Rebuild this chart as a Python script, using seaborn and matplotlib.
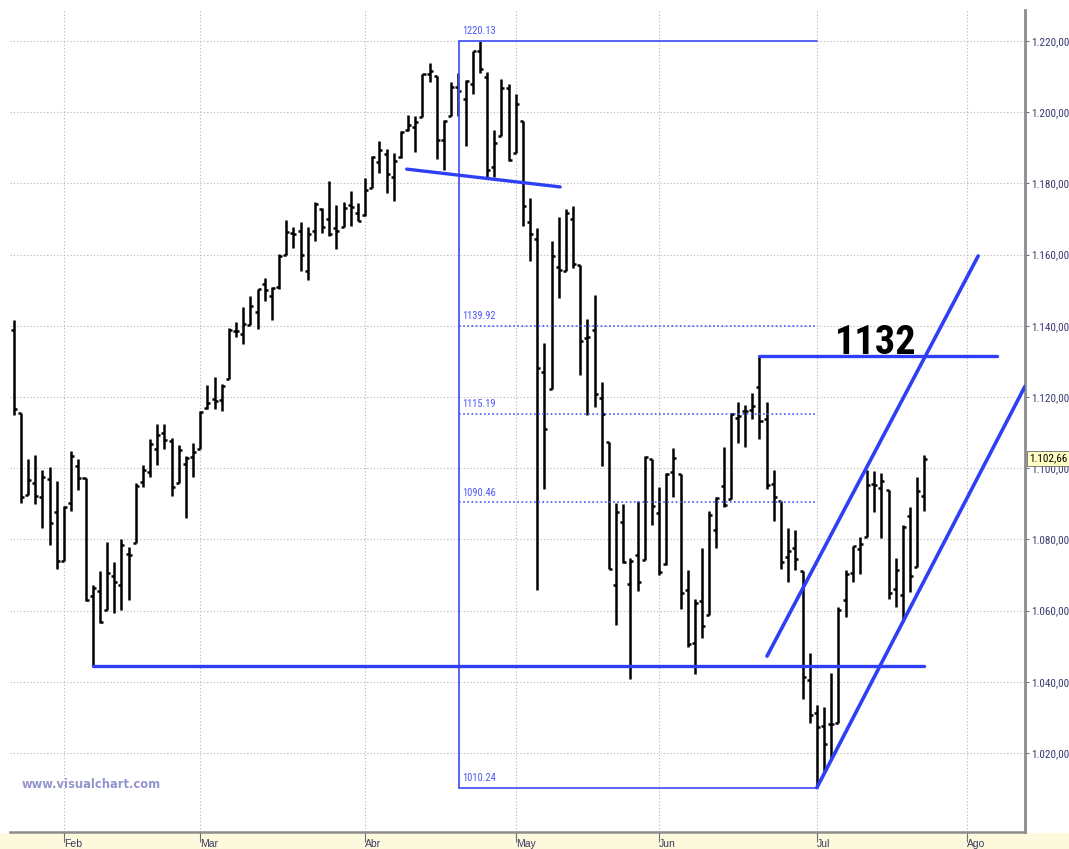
import numpy as np
import pandas as pd
import matplotlib
matplotlib.use("Agg")
import matplotlib.pyplot as plt
import matplotlib.transforms as mtransforms
from matplotlib import font_manager as fm
from matplotlib.patches import Rectangle
import seaborn as sns

# ---------------- data ----------------
dates = ["2010-01-21","2010-01-22","2010-01-25","2010-01-26","2010-01-27","2010-01-28","2010-01-29",
"2010-02-01","2010-02-02","2010-02-03","2010-02-04","2010-02-05","2010-02-08","2010-02-09","2010-02-10",
"2010-02-11","2010-02-12","2010-02-16","2010-02-17","2010-02-18","2010-02-19","2010-02-22","2010-02-23",
"2010-02-24","2010-02-25","2010-02-26",
"2010-03-01","2010-03-02","2010-03-03","2010-03-04","2010-03-05","2010-03-08","2010-03-09","2010-03-10",
"2010-03-11","2010-03-12","2010-03-15","2010-03-16","2010-03-17","2010-03-18","2010-03-19","2010-03-22",
"2010-03-23","2010-03-24","2010-03-25","2010-03-26","2010-03-29","2010-03-30","2010-03-31",
"2010-04-01","2010-04-05","2010-04-06","2010-04-07","2010-04-08","2010-04-09","2010-04-12","2010-04-13",
"2010-04-14","2010-04-15","2010-04-16","2010-04-19","2010-04-20","2010-04-21","2010-04-22","2010-04-23",
"2010-04-26","2010-04-27","2010-04-28","2010-04-29","2010-04-30",
"2010-05-03","2010-05-04","2010-05-05","2010-05-06","2010-05-07","2010-05-10","2010-05-11","2010-05-12",
"2010-05-13","2010-05-14","2010-05-17","2010-05-18","2010-05-19","2010-05-20","2010-05-21","2010-05-24",
"2010-05-25","2010-05-26","2010-05-27","2010-05-28",
"2010-06-01","2010-06-02","2010-06-03","2010-06-04","2010-06-07","2010-06-08","2010-06-09","2010-06-10",
"2010-06-11","2010-06-14","2010-06-15","2010-06-16","2010-06-17","2010-06-18","2010-06-21","2010-06-22",
"2010-06-23","2010-06-24","2010-06-25","2010-06-28","2010-06-29","2010-06-30",
"2010-07-01","2010-07-02","2010-07-06","2010-07-07","2010-07-08","2010-07-09","2010-07-12","2010-07-13",
"2010-07-14","2010-07-15","2010-07-16","2010-07-19","2010-07-20","2010-07-21","2010-07-22","2010-07-23"]

opens = [1138.7,1115.5,1092.4,1095.8,1091.9,1096.9,1087.6,
1073.9,1090.1,1100.7,1097.3,1064.1,1065.5,1060.1,1069.7,1067.1,1075.9,1079.1,1096.1,1099.0,1105.5,1110.0,
1107.5,1095.9,1101.2,1103.1,
1105.4,1117.0,1119.4,1119.1,1125.1,1138.4,1137.6,1140.2,1144.0,1151.7,1148.5,1150.8,1159.9,1166.1,1166.7,
1155.4,1166.5,1172.7,1170.0,1167.6,1167.7,1173.8,1171.8,
1171.2,1178.7,1186.0,1188.2,1181.8,1187.5,1194.9,1195.9,1198.7,1210.8,1210.2,1192.1,1199.0,1207.2,1203.8,
1207.9,1217.1,1209.9,1184.6,1193.3,1206.8,
1188.6,1197.5,1169.2,1164.4,1127.0,1122.3,1156.4,1155.4,1170.0,1157.2,1136.5,1138.8,1119.6,1107.3,1067.3,
1084.8,1067.4,1075.5,1074.3,1102.6,
1087.3,1073.0,1098.8,1098.4,1065.8,1050.8,1062.8,1058.8,1082.7,1095.0,1091.2,1114.0,1116.0,1116.2,1122.8,
1113.9,1095.6,1090.9,1075.1,1077.5,1071.1,1040.6,
1031.1,1027.7,1028.1,1028.5,1062.9,1070.5,1077.2,1080.6,1095.6,1094.5,1093.9,1066.0,1064.5,1086.7,1072.1,
1092.2]

highs = [1141.6,1115.5,1102.6,1103.7,1099.5,1100.2,1096.5,
1089.4,1104.7,1102.7,1097.3,1067.1,1071.2,1079.3,1073.7,1080.0,1077.8,1095.7,1101.0,1108.2,1112.4,1112.3,
1108.6,1106.4,1103.5,1107.2,
1116.1,1123.5,1125.6,1123.7,1139.4,1141.1,1145.4,1148.3,1150.2,1153.4,1151.0,1160.3,1169.8,1167.8,1169.2,
1167.8,1174.7,1173.0,1180.7,1173.9,1174.9,1177.8,1174.6,
1181.4,1187.7,1191.8,1189.6,1188.6,1194.7,1199.2,1199.0,1210.7,1213.9,1210.2,1197.9,1208.6,1211.0,1209.0,
1217.3,1220.13,1211.4,1195.0,1209.4,1208.0,
1205.1,1197.5,1176.0,1167.6,1135.1,1163.9,1170.5,1172.9,1173.6,1157.2,1141.9,1148.7,1124.3,1107.3,1090.2,
1090.0,1074.8,1090.8,1103.5,1102.6,
1094.8,1098.6,1105.7,1098.4,1071.4,1063.2,1077.7,1087.9,1092.0,1105.9,1115.6,1118.7,1117.7,1121.0,1131.2,
1118.5,1099.6,1090.9,1083.1,1082.6,1071.1,1048.1,
1033.6,1032.9,1042.5,1060.9,1071.3,1078.2,1080.8,1099.5,1099.1,1098.7,1093.9,1074.7,1083.9,1089.0,1097.5,
1103.7]

lows = [1114.8,1090.2,1092.4,1089.9,1083.1,1078.5,1071.6,
1073.9,1087.9,1093.8,1062.8,1044.5,1056.5,1060.1,1059.3,1060.1,1063.0,1079.1,1094.7,1097.5,1100.8,1105.4,
1092.2,1095.9,1086.0,1097.6,
1105.4,1116.5,1116.6,1116.1,1125.1,1136.8,1134.9,1140.1,1139.0,1147.0,1141.5,1150.4,1159.9,1161.9,1155.3,
1152.9,1163.8,1166.0,1165.1,1161.5,1167.7,1168.0,1169.4,
1170.7,1178.7,1182.8,1177.3,1175.1,1187.2,1194.7,1188.8,1198.7,1208.5,1186.8,1183.7,1199.0,1198.9,1190.6,
1205.1,1211.1,1181.6,1181.8,1193.3,1186.3,
1188.6,1168.1,1158.2,1065.8,1094.2,1122.3,1147.7,1155.4,1156.1,1126.1,1115.0,1117.2,1100.7,1071.6,1055.9,
1073.4,1040.8,1065.6,1074.3,1084.1,
1069.9,1072.7,1091.8,1060.5,1049.9,1042.2,1052.3,1058.8,1077.5,1089.0,1091.2,1107.1,1105.9,1113.9,1108.2,
1094.2,1085.3,1071.6,1067.9,1071.5,1035.2,1028.3,
1010.24,1015.0,1018.4,1028.5,1058.2,1068.1,1070.4,1080.6,1087.7,1080.5,1063.3,1061.1,1056.9,1065.3,1072.1,
1087.9]

closes = [1116.5,1091.8,1096.8,1092.2,1097.5,1084.5,1073.9,
1089.2,1103.3,1097.3,1063.1,1066.2,1056.7,1070.5,1068.1,1078.5,1075.5,1094.9,1099.5,1106.8,1109.2,1108.0,
1094.6,1105.2,1102.9,1104.5,
1115.7,1118.3,1118.8,1123.0,1138.7,1138.5,1140.5,1145.6,1150.2,1150.0,1150.5,1159.5,1166.2,1165.8,1159.9,
1165.8,1174.2,1167.7,1165.7,1166.6,1173.2,1173.3,1169.4,
1178.1,1187.4,1189.4,1182.5,1186.4,1194.4,1196.5,1197.3,1210.7,1211.7,1192.1,1197.5,1207.2,1205.9,1208.7,
1217.3,1212.1,1183.7,1191.4,1206.8,1186.7,
1202.3,1173.6,1165.9,1128.2,1110.9,1159.7,1155.8,1171.7,1157.4,1135.7,1136.9,1120.8,1115.1,1071.6,1087.7,
1073.7,1074.0,1068.0,1103.1,1089.4,
1070.7,1098.4,1102.8,1064.9,1050.5,1062.0,1055.7,1086.8,1091.6,1089.6,1115.2,1114.6,1116.0,1117.5,1113.2,
1095.3,1092.0,1073.7,1076.8,1074.6,1041.2,1030.7,
1027.4,1022.6,1028.1,1060.3,1070.3,1078.0,1078.8,1095.3,1095.2,1096.5,1064.9,1071.3,1083.5,1069.6,1093.7,
1102.66]

month_labels = ["Feb", "Mar", "Abr", "May", "Jun", "Jul", "Ago"]
month_starts = ["2010-02-01", "2010-03-01", "2010-04-01", "2010-05-03", "2010-06-01", "2010-07-01", "2010-08-02"]

y_ticks = [1020, 1040, 1060, 1080, 1100, 1120, 1140, 1160, 1180, 1200, 1220]

fib_high = 1220.13
fib_low = 1010.24
fib_levels = [1139.92, 1115.19, 1090.46]
support_level = 1044.5
resistance_level = 1131.5
resistance_text = "1132"
last_price = 1102.66

# ---------------- helpers ----------------
def es_num(v):
    return f"{v:,.2f}".replace(",", "X").replace(".", ",").replace("X", ".")

font_names = {f.name for f in fm.fontManager.ttflist}
narrow = None
for cand in ["Liberation Sans Narrow", "DejaVu Sans Condensed", "Roboto Condensed",
             "Open Sans Condensed", "Noto Sans Condensed"]:
    if cand in font_names:
        narrow = cand
        break
if narrow is None:
    conds = [f.name for f in fm.fontManager.ttflist if "condensed" in str(f.stretch).lower()
             or "Narrow" in f.name or "Condensed" in f.name]
    narrow = conds[0] if conds else None
narrow_family = [narrow, "DejaVu Sans"] if narrow else ["Liberation Sans", "DejaVu Sans"]
# width scale relative to the reference glyphs when no narrow face exists
big_size = 29 if narrow else 20

# ---------------- layout ----------------
df = pd.DataFrame({"date": pd.to_datetime(dates), "open": opens, "high": highs,
                   "low": lows, "close": closes})
df["i"] = np.arange(len(df))

all_days = pd.bdate_range("2010-01-21", "2010-08-31")
all_days = all_days[~all_days.isin(pd.to_datetime(["2010-02-15", "2010-04-02", "2010-05-31", "2010-07-05"]))]
day_index = {d: k for k, d in enumerate(all_days)}
month_idx = [day_index[pd.Timestamp(m)] for m in month_starts]
def idx_of(s):
    return day_index[pd.Timestamp(s)]

sns.set_theme(style="white")
plt.rcParams["font.family"] = ["Liberation Sans", "DejaVu Sans"]

W, H = 1069, 849
fig = plt.figure(figsize=(W / 100, H / 100), dpi=100)
fig.patch.set_facecolor("white")

strip = Rectangle((0, 0), 1, 16 / H, transform=fig.transFigure,
                  facecolor="#fdf9dd", edgecolor="none", zorder=-5)
fig.add_artist(strip)

ax = fig.add_axes([10 / W, 17 / H, 1015 / W, 822 / H])
ax.set_facecolor("white")
ax.patch.set_alpha(0.0)
ax.set_zorder(1)

ax.set_xlim(-0.53, 141.03)
ax.set_ylim(997.8, 1228.7)

ax.set_yticks(y_ticks)
ax.set_xticks(month_idx)
ax.set_xticklabels(month_labels, ha="left")
ax.grid(True, color="#b5b5b5", linestyle=(0, (1, 2)), linewidth=0.8)
ax.set_axisbelow(True)

ax.yaxis.tick_right()
ax.set_yticklabels([es_num(v) for v in y_ticks])
for lab in ax.get_yticklabels():
    lab.set_family(narrow_family)
ax.tick_params(axis="y", direction="out", length=3, width=0.8, color="#707070", pad=1.5,
               labelsize=8 if narrow else 6.8, labelcolor="#3a3a72", right=True, left=False)
ax.tick_params(axis="x", direction="out", length=7, width=0.8, color="#707070", pad=-2,
               labelsize=7.5, labelcolor="#3a3a60", bottom=True)
for s in ["top", "left"]:
    ax.spines[s].set_visible(False)
ax.spines["right"].set_color("#8c8c8c")
ax.spines["right"].set_linewidth(2)
ax.spines["bottom"].set_color("#8c8c8c")
ax.spines["bottom"].set_linewidth(1.8)

# ---------------- OHLC bars ----------------
tick = 0.42
ax.vlines(df["i"], df["low"], df["high"], color="black", linewidth=1.8, zorder=3)
ax.hlines(df["open"], df["i"] - tick, df["i"], color="black", linewidth=1.8, zorder=3)
ax.hlines(df["close"], df["i"], df["i"] + tick, color="black", linewidth=1.8, zorder=3)

# ---------------- drawings ----------------
blue = "#2f3ff5"
fib_blue = "#4a58f7"

def seg(x0, y0, x1, y1, color=blue, lw=2.6, ls="-"):
    d = pd.DataFrame({"x": [x0, x1], "y": [y0, y1]})
    sns.lineplot(data=d, x="x", y="y", ax=ax, color=color, linewidth=lw, linestyle=ls,
                 estimator=None, sort=False, zorder=4)

fib_x0 = 62.1
fib_x1 = idx_of("2010-07-01")
seg(fib_x0, fib_low, fib_x0, fib_high, fib_blue, 1.3)
seg(fib_x0, fib_high, fib_x1, fib_high, fib_blue, 1.3)
seg(fib_x0, fib_low, fib_x1, fib_low, fib_blue, 1.3)
for lv in fib_levels:
    seg(fib_x0, lv, fib_x1, lv, fib_blue, 1.2, (0, (1, 1.5)))
for lv in [fib_high] + fib_levels + [fib_low]:
    ax.text(fib_x0 + 0.4, lv + 1.3, f"{lv:.2f}", color=fib_blue, fontsize=7.5 if narrow else 6.5,
            family=narrow_family, va="bottom", ha="left", zorder=5)

seg(idx_of("2010-02-05"), support_level, idx_of("2010-07-23"), support_level, blue, 2.4)
seg(54.8, 1184.0, 76.2, 1179.0, blue, 2.4)
seg(idx_of("2010-06-21"), resistance_level, 137.1, resistance_level, blue, 2.4)
ax.text(114.5, resistance_level + 0.6, resistance_text, fontsize=big_size, fontweight="bold",
        family=narrow_family, color="black", va="baseline", ha="left", zorder=6)
seg(idx_of("2010-07-01"), fib_low, 141.03, 1123.0, blue, 2.6)
seg(105.05, 1047.2, 134.5, 1159.6, blue, 2.6)

trans = mtransforms.blended_transform_factory(ax.transAxes, ax.transData)
ax.text(1.004, last_price, es_num(last_price),
        transform=trans, fontsize=8 if narrow else 6.8, family=narrow_family, color="black",
        va="center", ha="left", clip_on=False,
        bbox=dict(boxstyle="square,pad=0.2", facecolor="#ffffc4", edgecolor="#6a6a6a", linewidth=0.6),
        zorder=7)

ax.set_xlabel("")
ax.set_ylabel("")

fig.text(22 / W, 1 - 785 / H, "www.visualchart.com", color="#9494cf", fontsize=8.3,
         fontweight="bold", family=["DejaVu Sans"], va="center", ha="left")

fig.savefig("out.png", dpi=100)
